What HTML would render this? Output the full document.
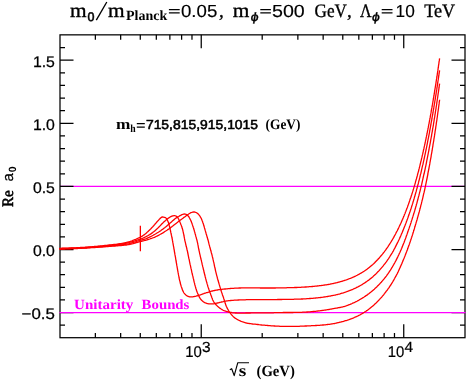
<!DOCTYPE html>
<html><head><meta charset="utf-8"><title>plot</title>
<style>html,body{margin:0;padding:0;background:#fff}svg{display:block;will-change:transform}text{text-rendering:geometricPrecision}</style>
</head><body>
<svg width="468" height="382" viewBox="0 0 468 382">
<rect x="0" y="0" width="468" height="382" fill="#fff"/>
<path d="M60.0,186.40H465.0" stroke="#f0f" stroke-width="1.2" fill="none"/>
<path d="M60.0,325.22h5M465.0,325.22h-5M60.0,312.60h13.5M465.0,312.60h-13.5M60.0,299.98h5M465.0,299.98h-5M60.0,287.36h5M465.0,287.36h-5M60.0,274.74h5M465.0,274.74h-5M60.0,262.12h5M465.0,262.12h-5M60.0,249.50h13.5M465.0,249.50h-13.5M60.0,236.88h5M465.0,236.88h-5M60.0,224.26h5M465.0,224.26h-5M60.0,211.64h5M465.0,211.64h-5M60.0,199.02h5M465.0,199.02h-5M60.0,186.40h13.5M465.0,186.40h-13.5M60.0,173.78h5M465.0,173.78h-5M60.0,161.16h5M465.0,161.16h-5M60.0,148.54h5M465.0,148.54h-5M60.0,135.92h5M465.0,135.92h-5M60.0,123.30h13.5M465.0,123.30h-13.5M60.0,110.68h5M465.0,110.68h-5M60.0,98.06h5M465.0,98.06h-5M60.0,85.44h5M465.0,85.44h-5M60.0,72.82h5M465.0,72.82h-5M60.0,60.20h13.5M465.0,60.20h-13.5M60.0,47.58h5M465.0,47.58h-5M95.36,337.7v-4.8M95.36,34.85v4.8M120.66,337.7v-4.8M120.66,34.85v4.8M140.28,337.7v-4.8M140.28,34.85v4.8M156.32,337.7v-4.8M156.32,34.85v4.8M169.87,337.7v-4.8M169.87,34.85v4.8M181.62,337.7v-4.8M181.62,34.85v4.8M191.98,337.7v-4.8M191.98,34.85v4.8M201.24,337.7v-13.4M201.24,34.85v13.4M262.20,337.7v-4.8M262.20,34.85v4.8M297.86,337.7v-4.8M297.86,34.85v4.8M323.16,337.7v-4.8M323.16,34.85v4.8M342.78,337.7v-4.8M342.78,34.85v4.8M358.82,337.7v-4.8M358.82,34.85v4.8M372.37,337.7v-4.8M372.37,34.85v4.8M384.12,337.7v-4.8M384.12,34.85v4.8M394.48,337.7v-4.8M394.48,34.85v4.8M403.74,337.7v-13.4M403.74,34.85v13.4" stroke="#000" stroke-width="1.25" fill="none"/>
<rect x="60.0" y="34.85" width="405.0" height="302.84999999999997" fill="none" stroke="#000" stroke-width="1.25"/>
<path d="M59.4,312.60H465.6" stroke="#f0f" stroke-width="1.2" fill="none"/>
<path d="M59.4,248.3 L60.2,248.3 L61.1,248.3 L61.9,248.2 L62.7,248.2 L63.5,248.2 L64.3,248.2 L65.1,248.2 L65.9,248.1 L66.7,248.1 L67.5,248.1 L68.2,248.1 L69.0,248.0 L69.7,248.0 L70.5,248.0 L71.2,248.0 L72.0,247.9 L72.7,247.9 L73.4,247.9 L74.1,247.8 L74.9,247.8 L75.6,247.8 L76.3,247.8 L77.0,247.7 L77.7,247.7 L78.4,247.6 L79.1,247.6 L79.8,247.6 L80.5,247.5 L81.2,247.5 L81.9,247.4 L82.6,247.4 L83.3,247.4 L83.9,247.3 L84.6,247.3 L85.3,247.2 L86.0,247.2 L86.7,247.1 L87.4,247.1 L88.1,247.0 L88.8,247.0 L89.5,246.9 L90.2,246.9 L90.9,246.8 L91.6,246.8 L92.3,246.7 L93.0,246.6 L93.7,246.6 L94.4,246.5 L95.1,246.5 L95.8,246.4 L96.5,246.3 L97.3,246.3 L98.0,246.2 L98.7,246.1 L99.5,246.1 L100.2,246.0 L101.0,245.9 L101.7,245.8 L102.5,245.8 L103.2,245.7 L104.0,245.6 L104.8,245.5 L105.5,245.4 L106.3,245.4 L107.1,245.3 L107.8,245.2 L108.6,245.1 L109.4,245.0 L110.1,245.0 L110.9,244.9 L111.6,244.8 L112.3,244.7 L113.1,244.6 L113.8,244.5 L114.5,244.4 L115.2,244.3 L115.9,244.3 L116.6,244.2 L117.2,244.1 L117.9,244.0 L118.5,243.9 L119.1,243.8 L119.7,243.7 L120.3,243.7 L120.9,243.6 L121.5,243.5 L122.0,243.4 L122.5,243.3 L123.0,243.2 L123.6,243.1 L124.1,243.0 L124.6,242.9 L125.0,242.8 L125.5,242.7 L126.0,242.6 L126.5,242.5 L127.0,242.4 L127.4,242.2 L127.9,242.1 L128.4,242.0 L128.9,241.8 L129.4,241.7 L129.9,241.5 L130.4,241.3 L130.9,241.2 L131.4,241.0 L132.0,240.8 L132.5,240.6 L133.0,240.4 L133.5,240.2 L134.1,240.0 L134.6,239.7 L135.1,239.5 L135.7,239.3 L136.2,239.1 L136.7,238.9 L137.2,238.6 L137.7,238.4 L138.2,238.2 L138.6,238.0 L139.1,237.7 L139.5,237.5 L140.0,237.3 L140.4,237.1 L140.8,236.9 L141.1,236.7 L141.5,236.5 L141.8,236.3 L142.2,236.1 L142.5,235.9 L142.8,235.7 L143.1,235.5 L143.4,235.3 L143.7,235.1 L144.0,234.9 L144.3,234.7 L144.6,234.4 L144.9,234.2 L145.2,234.0 L145.5,233.7 L145.8,233.5 L146.1,233.2 L146.4,233.0 L146.7,232.7 L147.0,232.4 L147.3,232.1 L147.7,231.8 L148.0,231.5 L148.3,231.2 L148.6,230.9 L149.0,230.6 L149.3,230.3 L149.6,230.0 L149.9,229.7 L150.2,229.4 L150.6,229.0 L150.9,228.7 L151.2,228.4 L151.5,228.0 L151.8,227.7 L152.1,227.4 L152.5,227.0 L152.8,226.7 L153.1,226.4 L153.4,226.0 L153.7,225.7 L154.0,225.3 L154.3,225.0 L154.6,224.7 L154.9,224.3 L155.2,224.0 L155.4,223.7 L155.7,223.3 L156.0,223.0 L156.3,222.7 L156.6,222.3 L156.9,222.0 L157.1,221.7 L157.4,221.4 L157.7,221.1 L158.0,220.8 L158.2,220.5 L158.5,220.2 L158.8,219.9 L159.0,219.6 L159.3,219.3 L159.5,219.1 L159.8,218.8 L160.0,218.6 L160.3,218.4 L160.5,218.1 L160.7,217.9 L161.0,217.7 L161.2,217.5 L161.4,217.4 L161.7,217.2 L161.9,217.1 L162.1,216.9 L162.3,216.8 L162.3,216.8 L165.5,217.6 L165.5,217.6 L165.8,217.9 L166.0,218.1 L166.3,218.4 L166.5,218.8 L166.8,219.1 L167.0,219.5 L167.2,219.9 L167.5,220.3 L167.7,220.8 L167.9,221.2 L168.1,221.7 L168.3,222.2 L168.5,222.7 L168.7,223.3 L168.8,223.9 L169.0,224.5 L169.2,225.1 L169.3,225.7 L169.5,226.3 L169.6,227.0 L169.8,227.6 L169.9,228.3 L170.1,229.0 L170.2,229.6 L170.4,230.3 L170.5,231.0 L170.7,231.7 L170.8,232.4 L171.0,233.1 L171.1,233.8 L171.3,234.5 L171.4,235.2 L171.6,235.9 L171.7,236.6 L171.9,237.3 L172.0,238.0 L172.2,238.7 L172.3,239.4 L172.4,240.2 L172.6,240.9 L172.7,241.7 L172.8,242.4 L173.0,243.2 L173.1,244.1 L173.3,244.9 L173.4,245.8 L173.6,246.7 L173.8,247.6 L173.9,248.6 L174.1,249.5 L174.3,250.5 L174.4,251.5 L174.6,252.5 L174.8,253.5 L174.9,254.4 L175.1,255.4 L175.3,256.4 L175.5,257.4 L175.6,258.3 L175.8,259.3 L175.9,260.2 L176.1,261.1 L176.2,262.0 L176.4,262.8 L176.5,263.7 L176.7,264.6 L176.8,265.4 L177.0,266.2 L177.1,267.1 L177.3,267.9 L177.4,268.7 L177.5,269.5 L177.7,270.3 L177.8,271.1 L178.0,271.9 L178.1,272.7 L178.3,273.6 L178.4,274.4 L178.6,275.1 L178.7,275.9 L178.9,276.7 L179.0,277.5 L179.2,278.3 L179.3,279.1 L179.5,279.8 L179.7,280.6 L179.9,281.3 L180.1,282.0 L180.2,282.8 L180.4,283.5 L180.6,284.2 L180.8,284.9 L181.0,285.6 L181.2,286.3 L181.4,286.9 L181.7,287.6 L181.9,288.2 L182.1,288.8 L182.3,289.5 L182.5,290.1 L182.8,290.6 L183.0,291.2 L183.3,291.7 L183.6,292.3 L183.9,292.8 L184.2,293.2 L184.6,293.7 L185.0,294.1 L185.4,294.5 L185.8,294.9 L186.2,295.2 L186.6,295.6 L187.1,295.8 L187.5,296.1 L188.0,296.3 L188.5,296.5 L189.0,296.6 L189.5,296.8 L190.0,296.8 L190.6,296.9 L191.1,296.9 L191.7,296.9 L192.3,296.8 L192.9,296.8 L193.5,296.7 L194.1,296.6 L194.7,296.4 L195.3,296.3 L196.0,296.1 L196.6,295.9 L197.2,295.8 L197.8,295.6 L198.5,295.4 L199.1,295.2 L199.7,295.0 L200.4,294.8 L201.0,294.6 L201.7,294.4 L202.3,294.1 L203.0,293.9 L203.7,293.7 L204.3,293.4 L205.0,293.2 L205.7,293.0 L206.5,292.7 L207.2,292.5 L207.9,292.3 L208.6,292.1 L209.3,291.8 L210.1,291.6 L210.8,291.4 L211.5,291.2 L212.3,291.0 L213.0,290.9 L213.7,290.7 L214.5,290.5 L215.2,290.4 L215.9,290.2 L216.6,290.1 L217.3,290.0 L218.0,289.9 L218.7,289.7 L219.4,289.6 L220.1,289.6 L220.8,289.5 L221.4,289.4 L222.1,289.3 L222.8,289.2 L223.4,289.2 L224.1,289.1 L224.7,289.0 L225.4,289.0 L226.0,288.9 L226.6,288.8 L227.3,288.8 L228.0,288.7 L228.7,288.6 L229.4,288.6 L230.2,288.5 L231.0,288.4 L231.8,288.4 L232.7,288.3 L233.7,288.3 L234.7,288.2 L235.8,288.2 L236.9,288.1 L238.0,288.1 L239.2,288.0 L240.3,288.0 L241.5,287.9 L242.7,287.9 L243.8,287.9 L244.9,287.8 L246.0,287.8 L247.0,287.8 L248.0,287.8 L248.9,287.8 L249.8,287.8 L250.6,287.8 L251.2,287.8 L251.9,287.8 L252.5,287.8 L253.0,287.8 L253.5,287.8 L254.0,287.8 L254.5,287.9 L255.1,287.9 L255.6,287.9 L256.2,287.9 L256.7,287.9 L257.3,287.9 L257.9,287.9 L258.5,287.9 L259.1,287.9 L259.7,287.9 L260.3,288.0 L260.9,288.0 L261.5,288.0 L262.1,288.0 L262.6,288.0 L263.2,288.0 L263.8,288.0 L264.4,288.0 L264.9,288.0 L265.5,288.0 L266.1,288.0 L266.7,288.0 L267.3,288.0 L267.8,288.0 L268.4,288.0 L269.0,288.0 L269.6,288.0 L270.2,288.0 L270.8,288.0 L271.3,288.0 L271.9,288.0 L272.5,288.0 L273.1,288.0 L273.7,288.0 L274.2,288.0 L274.8,288.0 L275.4,288.0 L276.0,287.9 L276.6,287.9 L277.1,287.9 L277.7,287.9 L278.3,287.9 L278.9,287.9 L279.5,287.9 L280.1,287.9 L280.6,287.9 L281.2,287.9 L281.8,287.9 L282.4,287.8 L283.0,287.8 L283.5,287.8 L284.1,287.8 L284.7,287.8 L285.3,287.8 L285.9,287.8 L286.4,287.8 L287.0,287.7 L287.6,287.7 L288.2,287.7 L288.8,287.7 L289.3,287.7 L289.9,287.7 L290.5,287.7 L291.1,287.6 L291.7,287.6 L292.3,287.6 L292.8,287.6 L293.4,287.6 L294.0,287.6 L294.6,287.5 L295.2,287.5 L295.7,287.5 L296.3,287.5 L296.9,287.5 L297.5,287.4 L298.1,287.4 L298.6,287.4 L299.2,287.4 L299.8,287.3 L300.4,287.3 L301.0,287.3 L301.5,287.2 L302.1,287.2 L302.7,287.2 L303.3,287.1 L303.9,287.1 L304.4,287.1 L305.0,287.0 L305.6,287.0 L306.2,287.0 L306.8,286.9 L307.3,286.9 L307.9,286.8 L308.5,286.8 L309.1,286.7 L309.7,286.7 L310.3,286.7 L310.8,286.6 L311.4,286.6 L312.0,286.5 L312.6,286.5 L313.2,286.4 L313.7,286.4 L314.3,286.3 L314.9,286.2 L315.5,286.2 L316.0,286.1 L316.6,286.1 L317.2,286.0 L317.8,285.9 L318.4,285.9 L318.9,285.8 L319.5,285.7 L320.1,285.7 L320.7,285.6 L321.3,285.5 L321.8,285.4 L322.4,285.4 L323.0,285.3 L323.6,285.2 L324.2,285.1 L324.7,285.0 L325.3,284.9 L325.9,284.9 L326.5,284.8 L327.0,284.7 L327.6,284.6 L328.2,284.5 L328.8,284.4 L329.3,284.3 L329.9,284.2 L330.5,284.0 L331.1,283.9 L331.6,283.8 L332.2,283.7 L332.8,283.6 L333.4,283.5 L333.9,283.3 L334.5,283.2 L335.1,283.1 L335.7,282.9 L336.2,282.8 L336.8,282.7 L337.4,282.5 L338.0,282.4 L338.5,282.2 L339.1,282.1 L339.7,281.9 L340.2,281.7 L340.8,281.6 L341.4,281.4 L341.9,281.3 L342.5,281.1 L343.1,280.9 L343.7,280.7 L344.2,280.5 L344.8,280.4 L345.4,280.2 L345.9,280.0 L346.5,279.8 L347.0,279.6 L347.6,279.4 L348.2,279.2 L348.7,279.0 L349.3,278.7 L349.9,278.5 L350.4,278.3 L351.0,278.1 L351.5,277.8 L352.1,277.6 L352.6,277.4 L353.2,277.1 L353.8,276.9 L354.3,276.6 L354.9,276.3 L355.4,276.1 L356.0,275.8 L356.5,275.5 L357.1,275.3 L357.6,275.0 L358.2,274.7 L358.7,274.4 L359.3,274.1 L359.8,273.8 L360.3,273.5 L360.9,273.2 L361.4,272.9 L362.0,272.5 L362.5,272.2 L363.0,271.9 L363.6,271.5 L364.1,271.2 L364.6,270.8 L365.2,270.5 L365.7,270.1 L366.2,269.8 L366.7,269.4 L367.3,269.0 L367.8,268.6 L368.3,268.2 L368.8,267.8 L369.3,267.4 L369.8,267.0 L370.3,266.6 L370.9,266.1 L371.4,265.7 L371.9,265.3 L372.4,264.8 L372.9,264.4 L373.4,263.9 L373.9,263.5 L374.4,263.0 L374.9,262.5 L375.3,262.0 L375.8,261.5 L376.3,261.0 L376.8,260.5 L377.3,260.0 L377.8,259.5 L378.2,259.0 L378.7,258.5 L379.2,258.0 L379.7,257.4 L380.1,256.9 L380.6,256.3 L381.1,255.8 L381.5,255.2 L382.0,254.7 L382.5,254.1 L382.9,253.5 L383.4,253.0 L383.8,252.4 L384.3,251.8 L384.7,251.2 L385.2,250.6 L385.6,250.0 L386.1,249.3 L386.5,248.7 L387.0,248.1 L387.4,247.4 L387.9,246.8 L388.3,246.2 L388.7,245.5 L389.1,244.9 L389.6,244.2 L390.0,243.5 L390.4,242.9 L390.8,242.2 L391.2,241.6 L391.6,240.9 L392.1,240.2 L392.5,239.5 L392.9,238.8 L393.3,238.1 L393.7,237.4 L394.1,236.6 L394.5,235.8 L394.9,235.1 L395.4,234.3 L395.8,233.5 L396.2,232.6 L396.6,231.8 L397.1,231.0 L397.5,230.2 L397.9,229.4 L398.3,228.6 L398.7,227.8 L399.0,227.0 L399.4,226.3 L399.7,225.6 L400.0,225.0 L400.3,224.4 L400.6,223.8 L400.8,223.3 L401.0,222.8 L401.3,222.3 L401.5,221.8 L401.7,221.3 L401.9,220.8 L402.1,220.3 L402.3,219.8 L402.6,219.3 L402.8,218.7 L403.0,218.2 L403.3,217.6 L403.5,217.1 L403.7,216.5 L404.0,216.0 L404.2,215.4 L404.4,214.8 L404.6,214.3 L404.9,213.7 L405.1,213.2 L405.3,212.6 L405.5,212.0 L405.8,211.5 L406.0,210.9 L406.2,210.3 L406.4,209.8 L406.6,209.2 L406.8,208.6 L407.1,208.0 L407.3,207.4 L407.5,206.9 L407.7,206.3 L407.9,205.7 L408.1,205.1 L408.4,204.5 L408.6,203.9 L408.8,203.3 L409.0,202.7 L409.2,202.1 L409.4,201.5 L409.6,200.9 L409.8,200.3 L410.0,199.6 L410.2,199.0 L410.5,198.4 L410.7,197.8 L410.9,197.2 L411.1,196.5 L411.3,195.9 L411.5,195.3 L411.7,194.7 L411.9,194.0 L412.1,193.4 L412.3,192.8 L412.5,192.1 L412.7,191.5 L412.9,190.8 L413.1,190.2 L413.3,189.5 L413.5,188.9 L413.7,188.2 L413.9,187.6 L414.1,186.9 L414.3,186.3 L414.5,185.6 L414.7,184.9 L414.9,184.3 L415.1,183.6 L415.3,182.9 L415.4,182.3 L415.6,181.6 L415.8,180.9 L416.0,180.2 L416.2,179.5 L416.4,178.9 L416.6,178.2 L416.8,177.5 L417.0,176.8 L417.2,176.1 L417.4,175.4 L417.5,174.7 L417.7,174.0 L417.9,173.3 L418.1,172.6 L418.3,171.9 L418.5,171.2 L418.7,170.5 L418.8,169.8 L419.0,169.1 L419.2,168.4 L419.4,167.6 L419.6,166.9 L419.7,166.2 L419.9,165.5 L420.1,164.7 L420.3,164.0 L420.5,163.3 L420.6,162.5 L420.8,161.8 L421.0,161.1 L421.2,160.3 L421.4,159.6 L421.5,158.9 L421.7,158.1 L421.9,157.4 L422.1,156.6 L422.2,155.9 L422.4,155.1 L422.6,154.4 L422.8,153.6 L422.9,152.8 L423.1,152.1 L423.3,151.3 L423.4,150.5 L423.6,149.8 L423.8,149.0 L424.0,148.2 L424.1,147.5 L424.3,146.7 L424.5,145.9 L424.6,145.1 L424.8,144.3 L425.0,143.6 L425.1,142.8 L425.3,142.0 L425.5,141.2 L425.6,140.4 L425.8,139.6 L426.0,138.8 L426.1,138.0 L426.3,137.2 L426.5,136.4 L426.6,135.6 L426.8,134.8 L427.0,134.0 L427.1,133.2 L427.3,132.3 L427.5,131.5 L427.6,130.7 L427.8,129.9 L427.9,129.1 L428.1,128.2 L428.3,127.4 L428.4,126.6 L428.6,125.8 L428.7,124.9 L428.9,124.1 L429.1,123.3 L429.2,122.4 L429.4,121.6 L429.5,120.7 L429.7,119.9 L429.8,119.1 L430.0,118.2 L430.2,117.4 L430.3,116.5 L430.5,115.7 L430.6,114.8 L430.8,113.9 L430.9,113.1 L431.1,112.2 L431.2,111.4 L431.4,110.5 L431.5,109.6 L431.7,108.7 L431.9,107.9 L432.0,107.0 L432.2,106.1 L432.3,105.2 L432.5,104.4 L432.6,103.5 L432.8,102.6 L432.9,101.7 L433.1,100.8 L433.2,99.9 L433.4,99.0 L433.5,98.2 L433.7,97.3 L433.8,96.4 L434.0,95.5 L434.1,94.6 L434.3,93.7 L434.4,92.8 L434.5,91.9 L434.7,91.0 L434.8,90.0 L435.0,89.1 L435.1,88.2 L435.3,87.3 L435.4,86.4 L435.6,85.5 L435.7,84.5 L435.9,83.6 L436.0,82.7 L436.1,81.7 L436.3,80.8 L436.4,79.8 L436.6,78.9 L436.7,78.0 L436.9,77.0 L437.0,76.1 L437.2,75.1 L437.3,74.2 L437.4,73.2 L437.6,72.3 L437.7,71.4 L437.9,70.4 L438.0,69.5 L438.1,68.6 L438.3,67.7 L438.4,66.8 L438.5,65.9 L438.6,65.0 L438.8,64.1 L438.9,63.2 L439.0,62.4 L439.1,61.5 L439.3,60.7 L439.4,59.9 L439.5,59.1 L439.6,58.3" stroke="#f00" stroke-width="1.3" fill="none" stroke-linejoin="round"/>
<path d="M59.4,248.6 L61.0,248.6 L62.6,248.5 L64.1,248.5 L65.7,248.4 L67.2,248.4 L68.6,248.3 L70.1,248.3 L71.5,248.2 L72.9,248.2 L74.3,248.1 L75.7,248.1 L77.0,248.0 L78.4,247.9 L79.7,247.9 L81.1,247.8 L82.4,247.7 L83.7,247.6 L85.0,247.6 L86.4,247.5 L87.7,247.4 L89.0,247.3 L90.3,247.2 L91.7,247.1 L93.0,247.0 L94.4,246.9 L95.8,246.8 L97.2,246.7 L98.6,246.5 L100.0,246.4 L101.4,246.3 L102.9,246.1 L104.4,246.0 L105.9,245.8 L107.3,245.7 L108.8,245.5 L110.2,245.4 L111.7,245.2 L113.1,245.1 L114.4,244.9 L115.8,244.7 L117.1,244.6 L118.3,244.4 L119.5,244.3 L120.6,244.1 L121.7,244.0 L122.7,243.8 L123.7,243.6 L124.7,243.5 L125.6,243.3 L126.5,243.1 L127.4,242.9 L128.4,242.7 L129.3,242.4 L130.3,242.2 L131.3,241.9 L132.3,241.6 L133.4,241.3 L134.4,241.0 L135.4,240.6 L136.5,240.3 L137.4,240.0 L138.4,239.7 L139.3,239.4 L140.1,239.1 L140.9,238.8 L141.6,238.6 L142.2,238.3 L142.9,238.1 L143.5,237.9 L144.1,237.6 L144.7,237.3 L145.3,237.0 L146.0,236.7 L146.7,236.3 L147.4,235.9 L148.2,235.5 L148.9,235.0 L149.7,234.6 L150.4,234.1 L151.2,233.6 L151.9,233.1 L152.6,232.6 L153.3,232.0 L154.0,231.5 L154.7,230.9 L155.3,230.4 L156.0,229.8 L156.7,229.2 L157.3,228.5 L158.0,227.9 L158.7,227.2 L159.4,226.6 L160.0,225.9 L160.7,225.2 L161.3,224.5 L162.0,223.8 L162.6,223.2 L163.2,222.6 L163.8,222.0 L164.4,221.4 L165.0,220.9 L165.6,220.4 L166.1,219.9 L166.7,219.4 L167.2,219.0 L167.7,218.6 L168.3,218.2 L168.8,217.9 L169.3,217.5 L169.8,217.2 L170.3,216.9 L170.8,216.7 L171.3,216.4 L171.8,216.2 L172.3,216.0 L172.8,215.9 L173.3,215.8 L173.8,215.7 L174.3,215.7 L174.8,215.7 L175.3,215.8 L175.8,216.0 L176.3,216.2 L176.7,216.5 L177.1,216.9 L177.5,217.3 L177.8,217.8 L178.2,218.2 L178.5,218.8 L178.8,219.3 L179.0,219.8 L179.3,220.4 L179.5,220.9 L179.7,221.5 L180.0,222.1 L180.2,222.7 L180.5,223.3 L180.7,224.0 L181.0,224.7 L181.3,225.3 L181.5,226.0 L181.8,226.8 L182.0,227.5 L182.2,228.3 L182.5,229.1 L182.7,229.8 L182.9,230.6 L183.1,231.5 L183.3,232.3 L183.4,233.1 L183.6,233.9 L183.8,234.7 L183.9,235.5 L184.1,236.3 L184.2,237.1 L184.4,237.9 L184.5,238.7 L184.7,239.5 L184.8,240.3 L185.0,241.1 L185.2,241.9 L185.4,242.7 L185.6,243.6 L185.8,244.5 L186.0,245.4 L186.2,246.3 L186.5,247.2 L186.7,248.1 L186.9,249.0 L187.1,250.0 L187.4,251.0 L187.6,252.0 L187.8,253.0 L188.0,254.0 L188.2,255.1 L188.4,256.1 L188.6,257.1 L188.8,258.2 L189.1,259.2 L189.3,260.2 L189.5,261.3 L189.7,262.3 L189.9,263.3 L190.1,264.4 L190.4,265.4 L190.6,266.4 L190.8,267.4 L191.0,268.4 L191.3,269.4 L191.5,270.4 L191.7,271.5 L191.9,272.5 L192.2,273.5 L192.4,274.5 L192.6,275.4 L192.9,276.4 L193.1,277.4 L193.3,278.4 L193.6,279.3 L193.8,280.3 L194.0,281.3 L194.2,282.2 L194.5,283.1 L194.7,284.1 L194.9,285.0 L195.2,285.9 L195.4,286.7 L195.7,287.6 L195.9,288.5 L196.2,289.3 L196.4,290.1 L196.7,290.9 L197.0,291.7 L197.3,292.5 L197.6,293.2 L197.9,293.9 L198.2,294.6 L198.5,295.3 L198.8,296.0 L199.1,296.6 L199.4,297.2 L199.8,297.8 L200.1,298.4 L200.5,299.0 L201.0,299.5 L201.4,300.0 L201.9,300.5 L202.5,301.0 L203.0,301.5 L203.6,301.9 L204.2,302.3 L204.8,302.6 L205.5,303.0 L206.1,303.2 L206.7,303.4 L207.3,303.6 L208.0,303.7 L208.6,303.8 L209.3,303.9 L209.9,303.9 L210.6,303.9 L211.3,303.9 L212.0,303.9 L212.8,303.8 L213.5,303.8 L214.3,303.7 L215.1,303.5 L215.9,303.4 L216.7,303.2 L217.5,303.0 L218.3,302.8 L219.1,302.6 L219.9,302.4 L220.8,302.2 L221.6,302.0 L222.4,301.8 L223.3,301.6 L224.1,301.4 L225.0,301.2 L225.9,301.1 L226.8,300.9 L227.7,300.8 L228.7,300.7 L229.7,300.6 L230.8,300.5 L231.9,300.4 L233.1,300.3 L234.4,300.2 L235.7,300.1 L237.0,300.1 L238.4,300.0 L239.8,299.9 L241.2,299.9 L242.6,299.8 L243.9,299.8 L245.2,299.8 L246.5,299.7 L247.7,299.7 L248.8,299.7 L249.8,299.7 L250.7,299.7 L251.5,299.7 L252.2,299.7 L252.9,299.7 L253.5,299.7 L254.1,299.7 L254.7,299.7 L255.4,299.7 L256.0,299.7 L256.7,299.7 L257.4,299.7 L258.1,299.7 L258.8,299.7 L259.5,299.7 L260.3,299.7 L261.0,299.7 L261.7,299.7 L262.4,299.7 L263.0,299.7 L263.7,299.7 L264.4,299.7 L265.1,299.7 L265.8,299.7 L266.5,299.7 L267.2,299.7 L267.9,299.7 L268.6,299.7 L269.3,299.7 L270.0,299.7 L270.7,299.7 L271.4,299.6 L272.1,299.6 L272.8,299.6 L273.5,299.6 L274.2,299.6 L274.8,299.6 L275.5,299.6 L276.2,299.6 L276.9,299.6 L277.6,299.5 L278.3,299.5 L279.0,299.5 L279.7,299.5 L280.4,299.5 L281.1,299.5 L281.8,299.5 L282.5,299.4 L283.2,299.4 L283.9,299.4 L284.6,299.4 L285.3,299.4 L286.0,299.4 L286.7,299.4 L287.4,299.4 L288.0,299.3 L288.7,299.3 L289.4,299.3 L290.1,299.3 L290.8,299.3 L291.5,299.3 L292.2,299.3 L292.9,299.3 L293.6,299.3 L294.3,299.2 L295.0,299.2 L295.7,299.2 L296.4,299.2 L297.1,299.2 L297.8,299.2 L298.5,299.1 L299.2,299.1 L299.9,299.1 L300.6,299.1 L301.3,299.0 L301.9,299.0 L302.6,299.0 L303.3,298.9 L304.0,298.9 L304.7,298.9 L305.4,298.8 L306.1,298.8 L306.8,298.7 L307.5,298.7 L308.2,298.6 L308.9,298.6 L309.6,298.5 L310.3,298.5 L311.0,298.4 L311.7,298.4 L312.4,298.3 L313.1,298.3 L313.7,298.2 L314.4,298.1 L315.1,298.1 L315.8,298.0 L316.5,297.9 L317.2,297.9 L317.9,297.8 L318.6,297.7 L319.3,297.6 L320.0,297.6 L320.7,297.5 L321.4,297.4 L322.1,297.3 L322.8,297.2 L323.4,297.1 L324.1,297.0 L324.8,296.9 L325.5,296.8 L326.2,296.7 L326.9,296.6 L327.6,296.5 L328.3,296.4 L329.0,296.2 L329.7,296.1 L330.4,296.0 L331.0,295.9 L331.7,295.7 L332.4,295.6 L333.1,295.4 L333.8,295.3 L334.5,295.2 L335.2,295.0 L335.9,294.8 L336.5,294.7 L337.2,294.5 L337.9,294.3 L338.6,294.2 L339.3,294.0 L340.0,293.8 L340.6,293.6 L341.3,293.4 L342.0,293.2 L342.7,293.0 L343.4,292.8 L344.0,292.6 L344.7,292.4 L345.4,292.1 L346.1,291.9 L346.7,291.7 L347.4,291.4 L348.1,291.2 L348.8,290.9 L349.4,290.7 L350.1,290.4 L350.8,290.1 L351.4,289.9 L352.1,289.6 L352.8,289.3 L353.4,289.0 L354.1,288.7 L354.8,288.4 L355.4,288.1 L356.1,287.8 L356.7,287.4 L357.4,287.1 L358.1,286.8 L358.7,286.4 L359.4,286.1 L360.0,285.7 L360.7,285.3 L361.3,285.0 L362.0,284.6 L362.6,284.2 L363.2,283.8 L363.9,283.4 L364.5,283.0 L365.1,282.6 L365.8,282.1 L366.4,281.7 L367.0,281.3 L367.7,280.8 L368.3,280.4 L368.9,279.9 L369.5,279.4 L370.1,278.9 L370.8,278.4 L371.4,277.9 L372.0,277.4 L372.6,276.9 L373.2,276.4 L373.8,275.8 L374.4,275.3 L375.0,274.7 L375.6,274.2 L376.2,273.6 L376.8,273.0 L377.3,272.4 L377.9,271.8 L378.5,271.2 L379.1,270.6 L379.6,270.0 L380.2,269.4 L380.8,268.7 L381.3,268.1 L381.9,267.4 L382.4,266.8 L383.0,266.1 L383.5,265.4 L384.1,264.7 L384.6,264.0 L385.2,263.3 L385.7,262.6 L386.3,261.8 L386.8,261.1 L387.3,260.3 L387.8,259.6 L388.4,258.8 L388.9,258.0 L389.4,257.3 L389.9,256.5 L390.4,255.7 L390.9,254.9 L391.4,254.1 L391.9,253.3 L392.4,252.5 L392.9,251.6 L393.4,250.8 L393.8,249.9 L394.3,249.0 L394.8,248.1 L395.3,247.1 L395.8,246.1 L396.3,245.1 L396.8,244.1 L397.3,243.1 L397.8,242.1 L398.3,241.2 L398.7,240.2 L399.2,239.3 L399.6,238.4 L399.9,237.6 L400.3,236.9 L400.6,236.2 L400.9,235.5 L401.1,234.9 L401.4,234.3 L401.6,233.7 L401.9,233.1 L402.2,232.5 L402.4,231.9 L402.7,231.2 L403.0,230.6 L403.2,229.9 L403.5,229.2 L403.8,228.5 L404.1,227.9 L404.3,227.2 L404.6,226.5 L404.9,225.8 L405.1,225.2 L405.4,224.5 L405.7,223.8 L405.9,223.1 L406.2,222.4 L406.4,221.7 L406.7,221.0 L407.0,220.3 L407.2,219.6 L407.5,218.9 L407.7,218.2 L408.0,217.5 L408.2,216.8 L408.5,216.1 L408.7,215.4 L409.0,214.6 L409.2,213.9 L409.5,213.2 L409.7,212.4 L410.0,211.7 L410.2,211.0 L410.5,210.2 L410.7,209.5 L411.0,208.7 L411.2,208.0 L411.5,207.2 L411.7,206.4 L411.9,205.7 L412.2,204.9 L412.4,204.1 L412.7,203.4 L412.9,202.6 L413.1,201.8 L413.4,201.0 L413.6,200.2 L413.8,199.5 L414.1,198.7 L414.3,197.9 L414.5,197.1 L414.8,196.3 L415.0,195.5 L415.2,194.7 L415.5,193.8 L415.7,193.0 L415.9,192.2 L416.2,191.4 L416.4,190.6 L416.6,189.7 L416.8,188.9 L417.1,188.1 L417.3,187.3 L417.5,186.4 L417.7,185.6 L417.9,184.7 L418.2,183.9 L418.4,183.0 L418.6,182.2 L418.8,181.3 L419.0,180.5 L419.3,179.6 L419.5,178.7 L419.7,177.9 L419.9,177.0 L420.1,176.1 L420.3,175.2 L420.5,174.4 L420.8,173.5 L421.0,172.6 L421.2,171.7 L421.4,170.8 L421.6,169.9 L421.8,169.0 L422.0,168.1 L422.2,167.2 L422.4,166.3 L422.6,165.4 L422.9,164.5 L423.1,163.6 L423.3,162.7 L423.5,161.7 L423.7,160.8 L423.9,159.9 L424.1,159.0 L424.3,158.0 L424.5,157.1 L424.7,156.2 L424.9,155.2 L425.1,154.3 L425.3,153.3 L425.5,152.4 L425.7,151.4 L425.9,150.5 L426.1,149.5 L426.3,148.6 L426.5,147.6 L426.7,146.6 L426.9,145.7 L427.1,144.7 L427.3,143.7 L427.5,142.7 L427.6,141.8 L427.8,140.8 L428.0,139.8 L428.2,138.8 L428.4,137.8 L428.6,136.8 L428.8,135.8 L429.0,134.8 L429.2,133.8 L429.4,132.8 L429.6,131.8 L429.7,130.8 L429.9,129.8 L430.1,128.8 L430.3,127.8 L430.5,126.7 L430.7,125.7 L430.9,124.7 L431.0,123.7 L431.2,122.6 L431.4,121.6 L431.6,120.6 L431.8,119.5 L432.0,118.5 L432.1,117.4 L432.3,116.4 L432.5,115.3 L432.7,114.3 L432.9,113.2 L433.1,112.2 L433.2,111.1 L433.4,110.1 L433.6,109.0 L433.8,107.9 L433.9,106.9 L434.1,105.8 L434.3,104.7 L434.5,103.6 L434.7,102.6 L434.8,101.5 L435.0,100.4 L435.2,99.3 L435.4,98.2 L435.5,97.1 L435.7,96.0 L435.9,94.9 L436.1,93.8 L436.2,92.7 L436.4,91.6 L436.6,90.5 L436.8,89.4 L436.9,88.2 L437.1,87.1 L437.3,86.0 L437.4,84.9 L437.6,83.8 L437.8,82.7 L437.9,81.6 L438.1,80.5 L438.3,79.4 L438.4,78.3 L438.6,77.3 L438.7,76.3 L438.9,75.2 L439.0,74.2 L439.2,73.2 L439.3,72.2 L439.5,71.3 L439.6,70.4" stroke="#f00" stroke-width="1.3" fill="none" stroke-linejoin="round"/>
<path d="M59.4,248.9 L61.0,248.9 L62.6,248.8 L64.1,248.8 L65.6,248.7 L67.1,248.7 L68.6,248.6 L70.1,248.6 L71.5,248.5 L72.9,248.5 L74.3,248.4 L75.6,248.4 L77.0,248.3 L78.3,248.2 L79.7,248.2 L81.0,248.1 L82.3,248.0 L83.7,248.0 L85.0,247.9 L86.3,247.8 L87.6,247.7 L88.9,247.6 L90.3,247.5 L91.6,247.4 L93.0,247.3 L94.3,247.2 L95.7,247.1 L97.1,247.0 L98.5,246.9 L99.9,246.8 L101.4,246.7 L102.8,246.6 L104.3,246.4 L105.8,246.3 L107.2,246.2 L108.7,246.1 L110.1,245.9 L111.6,245.8 L113.0,245.7 L114.4,245.6 L115.7,245.4 L117.0,245.3 L118.2,245.2 L119.4,245.1 L120.5,244.9 L121.6,244.8 L122.6,244.7 L123.6,244.6 L124.6,244.4 L125.5,244.3 L126.4,244.1 L127.4,244.0 L128.3,243.8 L129.2,243.6 L130.2,243.3 L131.2,243.0 L132.3,242.7 L133.3,242.4 L134.4,242.1 L135.4,241.8 L136.4,241.5 L137.4,241.2 L138.3,240.9 L139.2,240.6 L140.1,240.4 L140.8,240.2 L141.5,240.0 L142.2,239.9 L142.8,239.7 L143.4,239.6 L144.0,239.4 L144.7,239.2 L145.4,239.0 L146.2,238.7 L147.0,238.3 L147.8,237.9 L148.7,237.5 L149.6,237.1 L150.5,236.7 L151.4,236.2 L152.3,235.7 L153.2,235.2 L154.0,234.7 L154.9,234.3 L155.8,233.8 L156.6,233.3 L157.4,232.8 L158.3,232.3 L159.1,231.8 L159.9,231.2 L160.7,230.7 L161.5,230.1 L162.3,229.5 L163.1,228.9 L163.9,228.3 L164.7,227.7 L165.5,227.0 L166.3,226.4 L167.1,225.7 L167.8,225.1 L168.6,224.4 L169.4,223.7 L170.1,223.1 L170.9,222.4 L171.6,221.8 L172.3,221.1 L173.0,220.5 L173.7,219.9 L174.4,219.4 L175.0,218.8 L175.7,218.3 L176.3,217.9 L176.9,217.5 L177.5,217.1 L178.0,216.8 L178.6,216.5 L179.1,216.2 L179.6,215.9 L180.1,215.6 L180.6,215.4 L181.1,215.1 L181.5,214.9 L182.0,214.7 L182.5,214.5 L182.9,214.3 L183.4,214.1 L183.9,214.1 L184.4,214.0 L184.9,214.1 L185.5,214.2 L186.0,214.3 L186.5,214.6 L186.9,214.9 L187.4,215.2 L187.8,215.6 L188.2,216.0 L188.6,216.5 L188.9,216.9 L189.2,217.4 L189.5,218.0 L189.8,218.5 L190.1,219.1 L190.4,219.7 L190.7,220.3 L191.0,220.9 L191.2,221.6 L191.5,222.3 L191.8,223.0 L192.1,223.7 L192.3,224.4 L192.6,225.2 L192.8,226.0 L193.1,226.7 L193.3,227.5 L193.6,228.3 L193.8,229.1 L194.1,229.9 L194.3,230.7 L194.5,231.5 L194.8,232.4 L195.0,233.2 L195.2,234.0 L195.5,234.8 L195.7,235.7 L195.9,236.5 L196.2,237.4 L196.4,238.3 L196.6,239.1 L196.9,240.0 L197.1,240.9 L197.3,241.8 L197.5,242.6 L197.7,243.4 L197.8,244.2 L198.0,244.9 L198.1,245.6 L198.2,246.2 L198.3,246.8 L198.4,247.4 L198.5,248.1 L198.7,248.7 L198.8,249.5 L199.0,250.3 L199.2,251.1 L199.4,252.1 L199.6,253.1 L199.8,254.1 L200.1,255.2 L200.3,256.3 L200.6,257.4 L200.8,258.5 L201.1,259.6 L201.4,260.7 L201.6,261.7 L201.9,262.8 L202.1,263.8 L202.3,264.9 L202.6,265.9 L202.8,266.9 L203.1,267.9 L203.3,268.9 L203.5,269.8 L203.8,270.8 L204.0,271.8 L204.2,272.8 L204.5,273.8 L204.7,274.8 L205.0,275.7 L205.2,276.7 L205.5,277.7 L205.7,278.7 L206.0,279.6 L206.2,280.6 L206.5,281.6 L206.8,282.5 L207.0,283.4 L207.3,284.4 L207.6,285.3 L207.8,286.2 L208.1,287.1 L208.4,288.0 L208.7,288.8 L209.0,289.7 L209.3,290.5 L209.5,291.3 L209.8,292.0 L210.1,292.8 L210.4,293.5 L210.7,294.3 L210.9,295.0 L211.2,295.7 L211.5,296.4 L211.7,297.2 L212.0,297.9 L212.3,298.6 L212.5,299.4 L212.8,300.1 L213.2,300.8 L213.5,301.5 L213.9,302.2 L214.4,302.8 L214.9,303.5 L215.4,304.1 L216.0,304.7 L216.6,305.3 L217.2,305.9 L217.8,306.4 L218.4,307.0 L219.0,307.5 L219.6,307.9 L220.2,308.4 L220.8,308.8 L221.5,309.2 L222.1,309.6 L222.8,310.0 L223.4,310.3 L224.1,310.6 L224.9,310.9 L225.6,311.2 L226.4,311.5 L227.2,311.7 L228.0,311.9 L228.8,312.1 L229.6,312.3 L230.4,312.4 L231.2,312.5 L232.0,312.7 L232.8,312.8 L233.6,312.9 L234.5,312.9 L235.4,313.0 L236.4,313.0 L237.4,313.1 L238.5,313.1 L239.6,313.1 L240.9,313.1 L242.1,313.1 L243.5,313.1 L244.8,313.1 L246.2,313.0 L247.5,313.0 L248.8,313.0 L250.1,313.0 L251.4,312.9 L252.6,312.9 L253.7,312.9 L254.7,312.9 L255.6,312.8 L256.4,312.8 L257.1,312.8 L257.8,312.8 L258.5,312.9 L259.1,312.9 L259.7,312.9 L260.3,312.9 L261.0,312.9 L261.6,312.9 L262.3,312.9 L263.0,312.9 L263.8,312.9 L264.5,312.9 L265.2,312.8 L265.9,312.8 L266.6,312.8 L267.3,312.8 L268.0,312.8 L268.7,312.8 L269.4,312.8 L270.0,312.8 L270.7,312.8 L271.4,312.8 L272.1,312.8 L272.8,312.8 L273.5,312.8 L274.2,312.7 L274.9,312.7 L275.6,312.7 L276.3,312.7 L277.0,312.7 L277.7,312.7 L278.4,312.7 L279.1,312.6 L279.7,312.6 L280.4,312.6 L281.1,312.6 L281.8,312.6 L282.5,312.6 L283.2,312.5 L283.9,312.5 L284.6,312.5 L285.3,312.5 L286.0,312.5 L286.7,312.5 L287.4,312.5 L288.1,312.5 L288.8,312.5 L289.5,312.5 L290.1,312.5 L290.8,312.5 L291.5,312.5 L292.2,312.5 L292.9,312.5 L293.6,312.4 L294.3,312.4 L295.0,312.4 L295.7,312.4 L296.4,312.4 L297.1,312.4 L297.8,312.4 L298.5,312.4 L299.2,312.4 L299.9,312.3 L300.6,312.3 L301.2,312.3 L301.9,312.3 L302.6,312.2 L303.3,312.2 L304.0,312.2 L304.7,312.1 L305.4,312.1 L306.1,312.1 L306.8,312.0 L307.5,312.0 L308.2,311.9 L308.9,311.9 L309.6,311.8 L310.3,311.8 L310.9,311.7 L311.6,311.7 L312.3,311.6 L313.0,311.5 L313.7,311.5 L314.4,311.4 L315.1,311.3 L315.8,311.3 L316.5,311.2 L317.2,311.1 L317.9,311.0 L318.6,310.9 L319.2,310.9 L319.9,310.8 L320.6,310.7 L321.3,310.6 L322.0,310.5 L322.7,310.4 L323.4,310.3 L324.1,310.2 L324.8,310.1 L325.5,310.0 L326.1,309.9 L326.8,309.8 L327.5,309.7 L328.2,309.6 L328.9,309.5 L329.6,309.4 L330.3,309.2 L331.0,309.1 L331.7,309.0 L332.3,308.8 L333.0,308.7 L333.7,308.6 L334.4,308.4 L335.1,308.3 L335.8,308.2 L336.5,308.1 L337.2,308.0 L337.8,307.9 L338.5,307.7 L339.2,307.6 L339.9,307.5 L340.6,307.4 L341.3,307.2 L342.0,307.1 L342.7,306.9 L343.3,306.7 L344.0,306.6 L344.7,306.4 L345.4,306.1 L346.1,305.9 L346.7,305.7 L347.4,305.4 L348.1,305.2 L348.7,304.9 L349.4,304.6 L350.1,304.4 L350.7,304.1 L351.4,303.8 L352.1,303.5 L352.7,303.2 L353.4,302.9 L354.1,302.6 L354.7,302.3 L355.4,302.0 L356.0,301.6 L356.7,301.3 L357.3,301.0 L358.0,300.6 L358.6,300.3 L359.3,299.9 L359.9,299.5 L360.6,299.2 L361.2,298.8 L361.9,298.4 L362.5,298.0 L363.1,297.6 L363.8,297.2 L364.4,296.8 L365.0,296.4 L365.7,295.9 L366.3,295.5 L366.9,295.1 L367.6,294.6 L368.2,294.1 L368.8,293.7 L369.4,293.2 L370.0,292.7 L370.6,292.2 L371.3,291.7 L371.9,291.2 L372.5,290.7 L373.1,290.2 L373.7,289.7 L374.3,289.2 L374.9,288.6 L375.5,288.1 L376.1,287.5 L376.7,287.0 L377.2,286.4 L377.8,285.8 L378.4,285.2 L379.0,284.6 L379.6,284.0 L380.1,283.4 L380.7,282.8 L381.3,282.2 L381.8,281.5 L382.4,280.9 L383.0,280.2 L383.5,279.6 L384.1,278.9 L384.6,278.2 L385.2,277.5 L385.7,276.8 L386.3,276.1 L386.8,275.4 L387.3,274.6 L387.9,273.9 L388.4,273.1 L388.9,272.4 L389.4,271.6 L389.9,270.8 L390.4,270.1 L390.9,269.3 L391.4,268.5 L391.9,267.7 L392.4,266.9 L392.9,266.0 L393.4,265.2 L393.9,264.3 L394.4,263.4 L394.9,262.5 L395.4,261.5 L395.9,260.6 L396.4,259.6 L396.9,258.6 L397.4,257.6 L397.9,256.6 L398.3,255.7 L398.8,254.7 L399.2,253.8 L399.6,253.0 L400.0,252.2 L400.3,251.5 L400.6,250.8 L400.9,250.1 L401.2,249.5 L401.4,248.9 L401.7,248.3 L401.9,247.7 L402.2,247.1 L402.4,246.5 L402.7,245.8 L403.0,245.1 L403.2,244.5 L403.5,243.8 L403.8,243.1 L404.1,242.4 L404.3,241.7 L404.6,241.0 L404.8,240.3 L405.1,239.6 L405.4,238.9 L405.6,238.2 L405.9,237.5 L406.1,236.8 L406.4,236.1 L406.6,235.4 L406.9,234.7 L407.1,233.9 L407.4,233.2 L407.6,232.5 L407.9,231.8 L408.1,231.0 L408.4,230.3 L408.6,229.6 L408.9,228.9 L409.1,228.1 L409.4,227.4 L409.6,226.6 L409.9,225.9 L410.1,225.2 L410.4,224.4 L410.6,223.7 L410.9,222.9 L411.1,222.2 L411.3,221.4 L411.6,220.7 L411.8,219.9 L412.1,219.2 L412.3,218.4 L412.6,217.6 L412.8,216.9 L413.0,216.1 L413.3,215.3 L413.5,214.6 L413.7,213.8 L414.0,213.0 L414.2,212.2 L414.5,211.4 L414.7,210.7 L414.9,209.9 L415.2,209.1 L415.4,208.3 L415.6,207.5 L415.8,206.7 L416.1,205.9 L416.3,205.0 L416.5,204.2 L416.8,203.4 L417.0,202.6 L417.2,201.8 L417.4,200.9 L417.7,200.1 L417.9,199.3 L418.1,198.4 L418.3,197.6 L418.5,196.8 L418.8,195.9 L419.0,195.1 L419.2,194.2 L419.4,193.4 L419.6,192.5 L419.9,191.6 L420.1,190.8 L420.3,189.9 L420.5,189.0 L420.7,188.2 L420.9,187.3 L421.1,186.4 L421.4,185.5 L421.6,184.7 L421.8,183.8 L422.0,182.9 L422.2,182.0 L422.4,181.1 L422.6,180.2 L422.8,179.3 L423.0,178.4 L423.2,177.5 L423.4,176.5 L423.6,175.6 L423.8,174.7 L424.1,173.8 L424.3,172.9 L424.5,171.9 L424.7,171.0 L424.9,170.1 L425.1,169.1 L425.3,168.2 L425.5,167.2 L425.7,166.3 L425.9,165.4 L426.1,164.4 L426.3,163.4 L426.5,162.5 L426.6,161.5 L426.8,160.6 L427.0,159.6 L427.2,158.6 L427.4,157.6 L427.6,156.7 L427.8,155.7 L428.0,154.7 L428.2,153.7 L428.4,152.7 L428.6,151.7 L428.8,150.7 L429.0,149.7 L429.1,148.7 L429.3,147.7 L429.5,146.7 L429.7,145.7 L429.9,144.7 L430.1,143.7 L430.3,142.7 L430.5,141.7 L430.6,140.6 L430.8,139.6 L431.0,138.6 L431.2,137.5 L431.4,136.5 L431.6,135.5 L431.7,134.4 L431.9,133.4 L432.1,132.3 L432.3,131.3 L432.5,130.2 L432.6,129.2 L432.8,128.1 L433.0,127.1 L433.2,126.0 L433.4,124.9 L433.5,123.8 L433.7,122.8 L433.9,121.7 L434.1,120.6 L434.2,119.5 L434.4,118.5 L434.6,117.4 L434.8,116.3 L434.9,115.2 L435.1,114.1 L435.3,113.0 L435.4,111.9 L435.6,110.8 L435.8,109.7 L436.0,108.6 L436.1,107.4 L436.3,106.3 L436.5,105.2 L436.7,104.0 L436.8,102.9 L437.0,101.7 L437.2,100.6 L437.3,99.5 L437.5,98.3 L437.7,97.2 L437.8,96.1 L438.0,95.0 L438.1,93.9 L438.3,92.8 L438.5,91.7 L438.6,90.6 L438.8,89.6 L438.9,88.5 L439.1,87.5 L439.2,86.5 L439.3,85.5 L439.5,84.5 L439.6,83.6" stroke="#f00" stroke-width="1.3" fill="none" stroke-linejoin="round"/>
<path d="M59.4,249.1 L61.0,249.1 L62.6,249.0 L64.2,249.0 L65.7,248.9 L67.2,248.9 L68.7,248.8 L70.2,248.8 L71.6,248.7 L73.0,248.7 L74.4,248.6 L75.8,248.6 L77.2,248.5 L78.6,248.4 L79.9,248.4 L81.3,248.3 L82.6,248.2 L83.9,248.1 L85.3,248.1 L86.6,248.0 L87.9,247.9 L89.3,247.8 L90.6,247.7 L92.0,247.6 L93.4,247.6 L94.7,247.5 L96.1,247.4 L97.5,247.3 L99.0,247.2 L100.4,247.1 L101.9,247.0 L103.4,246.9 L104.9,246.8 L106.4,246.7 L107.8,246.5 L109.3,246.4 L110.8,246.3 L112.2,246.2 L113.6,246.1 L115.0,246.0 L116.3,245.9 L117.6,245.8 L118.9,245.7 L120.0,245.6 L121.1,245.5 L122.2,245.4 L123.2,245.3 L124.2,245.2 L125.1,245.1 L126.1,245.0 L127.0,244.8 L128.0,244.7 L128.9,244.5 L129.9,244.3 L130.9,244.1 L132.0,243.8 L133.0,243.6 L134.1,243.3 L135.1,243.0 L136.2,242.7 L137.2,242.5 L138.2,242.2 L139.1,241.9 L139.9,241.7 L140.7,241.5 L141.4,241.3 L142.1,241.1 L142.7,241.0 L143.3,240.8 L144.0,240.7 L144.7,240.5 L145.4,240.3 L146.2,240.1 L147.0,239.9 L147.8,239.6 L148.7,239.3 L149.7,239.0 L150.6,238.7 L151.6,238.4 L152.5,238.0 L153.4,237.7 L154.4,237.3 L155.3,236.9 L156.1,236.5 L157.0,236.1 L157.9,235.7 L158.7,235.2 L159.5,234.8 L160.4,234.3 L161.2,233.8 L162.0,233.4 L162.9,232.9 L163.7,232.4 L164.5,231.8 L165.3,231.3 L166.1,230.8 L167.0,230.2 L167.8,229.6 L168.6,229.1 L169.5,228.5 L170.3,227.9 L171.1,227.2 L172.0,226.6 L172.8,226.0 L173.6,225.3 L174.4,224.7 L175.3,224.0 L176.1,223.4 L176.9,222.8 L177.6,222.2 L178.4,221.6 L179.1,221.0 L179.8,220.5 L180.5,220.0 L181.2,219.5 L181.9,219.0 L182.5,218.5 L183.2,218.1 L183.8,217.6 L184.4,217.1 L185.0,216.7 L185.6,216.2 L186.2,215.8 L186.8,215.4 L187.4,214.9 L187.9,214.5 L188.4,214.2 L189.0,213.8 L189.5,213.5 L190.0,213.2 L190.5,212.9 L191.0,212.7 L191.6,212.5 L192.1,212.3 L192.5,212.2 L193.0,212.1 L193.6,212.0 L194.1,212.0 L194.6,212.0 L195.1,212.2 L195.6,212.3 L196.1,212.5 L196.6,212.8 L197.1,213.1 L197.5,213.4 L198.0,213.8 L198.4,214.2 L198.8,214.7 L199.2,215.1 L199.6,215.7 L200.0,216.2 L200.3,216.9 L200.7,217.5 L201.1,218.1 L201.4,218.8 L201.7,219.5 L202.0,220.2 L202.3,221.0 L202.6,221.7 L202.8,222.5 L203.1,223.2 L203.4,224.0 L203.6,224.8 L203.8,225.6 L204.1,226.4 L204.3,227.2 L204.5,228.0 L204.8,228.8 L205.0,229.6 L205.2,230.4 L205.5,231.3 L205.7,232.1 L206.0,233.0 L206.2,233.9 L206.5,234.7 L206.7,235.6 L207.0,236.5 L207.2,237.3 L207.5,238.2 L207.7,239.0 L207.9,239.8 L208.2,240.6 L208.4,241.3 L208.5,242.0 L208.7,242.6 L208.8,243.2 L209.0,243.8 L209.1,244.4 L209.3,244.9 L209.4,245.5 L209.6,246.1 L209.7,246.7 L209.9,247.3 L210.1,248.0 L210.3,248.7 L210.5,249.5 L210.7,250.3 L211.0,251.2 L211.2,252.2 L211.5,253.2 L211.8,254.2 L212.1,255.3 L212.3,256.4 L212.6,257.5 L212.9,258.6 L213.1,259.7 L213.4,260.8 L213.6,261.9 L213.9,262.9 L214.1,264.0 L214.3,265.0 L214.5,266.0 L214.7,267.0 L215.0,268.0 L215.2,269.0 L215.4,270.0 L215.6,271.1 L215.9,272.1 L216.1,273.1 L216.4,274.1 L216.6,275.1 L216.9,276.1 L217.2,277.2 L217.4,278.2 L217.7,279.2 L218.0,280.3 L218.3,281.3 L218.6,282.3 L218.9,283.3 L219.2,284.4 L219.5,285.4 L219.8,286.4 L220.1,287.4 L220.4,288.4 L220.7,289.4 L221.0,290.3 L221.3,291.3 L221.6,292.2 L221.9,293.0 L222.2,293.9 L222.4,294.7 L222.7,295.5 L223.0,296.3 L223.3,297.1 L223.6,297.9 L223.8,298.7 L224.1,299.4 L224.3,300.2 L224.5,301.0 L224.8,301.7 L225.0,302.5 L225.2,303.3 L225.5,304.1 L225.8,304.9 L226.1,305.7 L226.4,306.5 L226.8,307.3 L227.2,308.1 L227.6,308.9 L228.1,309.7 L228.5,310.5 L229.0,311.3 L229.5,312.0 L230.0,312.7 L230.5,313.4 L231.0,314.1 L231.5,314.7 L232.1,315.3 L232.6,315.9 L233.1,316.4 L233.7,316.9 L234.3,317.4 L234.9,317.9 L235.5,318.4 L236.2,318.8 L236.9,319.2 L237.6,319.7 L238.3,320.0 L239.1,320.4 L239.8,320.7 L240.6,321.1 L241.3,321.4 L242.1,321.7 L242.8,321.9 L243.6,322.2 L244.3,322.4 L245.0,322.6 L245.7,322.8 L246.4,323.0 L247.1,323.1 L247.7,323.3 L248.4,323.4 L249.1,323.5 L249.9,323.6 L250.8,323.7 L251.7,323.8 L252.7,324.0 L253.9,324.1 L255.1,324.2 L256.4,324.4 L257.7,324.5 L259.1,324.7 L260.4,324.8 L261.8,325.0 L263.1,325.1 L264.4,325.2 L265.6,325.3 L266.8,325.4 L267.8,325.5 L268.7,325.6 L269.5,325.7 L270.3,325.7 L270.9,325.8 L271.6,325.8 L272.2,325.9 L272.8,325.9 L273.4,325.9 L274.1,326.0 L274.8,326.0 L275.5,326.1 L276.2,326.1 L276.9,326.1 L277.7,326.2 L278.4,326.2 L279.1,326.2 L279.8,326.3 L280.5,326.3 L281.2,326.3 L281.9,326.3 L282.6,326.4 L283.3,326.4 L284.0,326.4 L284.7,326.4 L285.4,326.4 L286.1,326.4 L286.8,326.4 L287.5,326.4 L288.2,326.4 L288.9,326.4 L289.6,326.4 L290.3,326.4 L291.0,326.4 L291.7,326.4 L292.4,326.4 L293.1,326.4 L293.8,326.4 L294.5,326.4 L295.2,326.4 L295.9,326.4 L296.6,326.3 L297.3,326.3 L298.0,326.3 L298.7,326.3 L299.4,326.3 L300.1,326.2 L300.8,326.2 L301.5,326.2 L302.2,326.2 L302.9,326.1 L303.6,326.1 L304.3,326.1 L305.0,326.0 L305.7,326.0 L306.5,326.0 L307.2,325.9 L307.9,325.9 L308.6,325.9 L309.3,325.8 L310.0,325.8 L310.7,325.8 L311.4,325.7 L312.1,325.7 L312.8,325.7 L313.5,325.6 L314.2,325.6 L314.9,325.6 L315.6,325.5 L316.3,325.5 L317.0,325.4 L317.7,325.4 L318.4,325.4 L319.1,325.3 L319.8,325.3 L320.5,325.2 L321.2,325.2 L321.9,325.1 L322.6,325.0 L323.3,325.0 L324.0,324.9 L324.7,324.8 L325.4,324.8 L326.1,324.7 L326.8,324.6 L327.5,324.5 L328.2,324.4 L328.9,324.4 L329.6,324.3 L330.3,324.2 L331.0,324.1 L331.7,323.9 L332.4,323.8 L333.1,323.7 L333.8,323.6 L334.5,323.5 L335.2,323.3 L335.8,323.2 L336.5,323.0 L337.2,322.9 L337.9,322.7 L338.6,322.6 L339.3,322.4 L340.0,322.2 L340.7,322.1 L341.4,321.9 L342.1,321.7 L342.8,321.5 L343.5,321.3 L344.1,321.1 L344.8,320.9 L345.5,320.7 L346.2,320.5 L346.9,320.3 L347.6,320.0 L348.3,319.8 L348.9,319.6 L349.6,319.3 L350.3,319.1 L351.0,318.8 L351.7,318.6 L352.3,318.3 L353.0,318.1 L353.7,317.8 L354.4,317.5 L355.0,317.2 L355.7,316.9 L356.4,316.6 L357.0,316.3 L357.7,316.0 L358.4,315.6 L359.0,315.3 L359.7,315.0 L360.4,314.6 L361.0,314.2 L361.7,313.9 L362.3,313.5 L363.0,313.1 L363.6,312.7 L364.3,312.3 L364.9,311.9 L365.6,311.5 L366.2,311.1 L366.8,310.6 L367.5,310.2 L368.1,309.7 L368.7,309.2 L369.4,308.8 L370.0,308.3 L370.6,307.8 L371.2,307.3 L371.8,306.8 L372.5,306.3 L373.1,305.7 L373.7,305.2 L374.3,304.6 L374.9,304.1 L375.5,303.5 L376.1,303.0 L376.7,302.4 L377.3,301.8 L377.8,301.2 L378.4,300.6 L379.0,300.0 L379.6,299.4 L380.2,298.7 L380.7,298.1 L381.3,297.5 L381.9,296.8 L382.4,296.1 L383.0,295.5 L383.6,294.8 L384.1,294.1 L384.7,293.4 L385.2,292.7 L385.8,292.0 L386.3,291.2 L386.9,290.5 L387.4,289.8 L387.9,289.0 L388.5,288.3 L389.0,287.6 L389.5,286.8 L390.0,286.0 L390.5,285.3 L391.1,284.5 L391.6,283.7 L392.1,282.8 L392.6,282.0 L393.1,281.1 L393.7,280.2 L394.2,279.2 L394.7,278.3 L395.2,277.3 L395.8,276.4 L396.2,275.5 L396.7,274.6 L397.2,273.7 L397.6,272.9 L398.0,272.1 L398.3,271.4 L398.6,270.7 L398.9,270.1 L399.2,269.5 L399.5,268.9 L399.7,268.3 L400.0,267.7 L400.3,267.1 L400.5,266.5 L400.8,265.9 L401.1,265.2 L401.4,264.5 L401.7,263.9 L402.0,263.2 L402.2,262.6 L402.5,261.9 L402.8,261.2 L403.1,260.6 L403.3,259.9 L403.6,259.2 L403.9,258.6 L404.2,257.9 L404.4,257.2 L404.7,256.6 L405.0,255.9 L405.2,255.2 L405.5,254.5 L405.8,253.9 L406.0,253.2 L406.3,252.5 L406.6,251.8 L406.8,251.1 L407.1,250.4 L407.4,249.7 L407.6,249.0 L407.9,248.3 L408.1,247.5 L408.4,246.8 L408.7,246.1 L408.9,245.4 L409.2,244.7 L409.4,243.9 L409.7,243.2 L409.9,242.5 L410.2,241.7 L410.4,241.0 L410.7,240.2 L410.9,239.5 L411.2,238.7 L411.4,238.0 L411.7,237.2 L411.9,236.5 L412.2,235.7 L412.4,235.0 L412.7,234.2 L412.9,233.4 L413.2,232.6 L413.4,231.9 L413.6,231.1 L413.9,230.3 L414.1,229.5 L414.4,228.7 L414.6,227.9 L414.8,227.1 L415.1,226.3 L415.3,225.5 L415.5,224.7 L415.8,223.9 L416.0,223.1 L416.2,222.3 L416.5,221.5 L416.7,220.7 L417.0,219.9 L417.2,219.1 L417.4,218.3 L417.6,217.5 L417.9,216.6 L418.1,215.8 L418.3,215.0 L418.6,214.2 L418.8,213.3 L419.0,212.5 L419.3,211.7 L419.5,210.8 L419.7,210.0 L419.9,209.1 L420.2,208.3 L420.4,207.4 L420.6,206.6 L420.8,205.7 L421.0,204.9 L421.3,204.0 L421.5,203.1 L421.7,202.2 L421.9,201.4 L422.1,200.5 L422.4,199.6 L422.6,198.7 L422.8,197.8 L423.0,196.9 L423.2,196.0 L423.4,195.1 L423.6,194.2 L423.8,193.3 L424.1,192.4 L424.3,191.4 L424.5,190.5 L424.7,189.6 L424.9,188.6 L425.1,187.7 L425.3,186.7 L425.5,185.8 L425.7,184.8 L425.9,183.9 L426.1,182.9 L426.3,181.9 L426.5,180.9 L426.7,180.0 L426.9,179.0 L427.1,178.0 L427.3,177.0 L427.5,176.0 L427.7,175.0 L427.9,174.0 L428.0,173.0 L428.2,172.0 L428.4,171.0 L428.6,170.0 L428.8,169.0 L429.0,168.0 L429.2,166.9 L429.4,165.9 L429.6,164.9 L429.8,163.9 L429.9,162.8 L430.1,161.8 L430.3,160.8 L430.5,159.7 L430.7,158.7 L430.9,157.6 L431.1,156.6 L431.2,155.5 L431.4,154.4 L431.6,153.4 L431.8,152.3 L432.0,151.2 L432.2,150.2 L432.3,149.1 L432.5,148.0 L432.7,146.9 L432.9,145.8 L433.0,144.7 L433.2,143.6 L433.4,142.5 L433.6,141.4 L433.8,140.3 L433.9,139.2 L434.1,138.1 L434.3,137.0 L434.5,135.9 L434.6,134.8 L434.8,133.7 L435.0,132.5 L435.1,131.4 L435.3,130.3 L435.5,129.1 L435.7,128.0 L435.8,126.8 L436.0,125.7 L436.2,124.5 L436.3,123.4 L436.5,122.2 L436.7,121.0 L436.9,119.8 L437.0,118.7 L437.2,117.5 L437.4,116.3 L437.5,115.1 L437.7,114.0 L437.8,112.8 L438.0,111.7 L438.2,110.5 L438.3,109.4 L438.5,108.3 L438.6,107.1 L438.8,106.0 L438.9,105.0 L439.1,103.9 L439.2,102.8 L439.3,101.8 L439.5,100.8 L439.6,99.8" stroke="#f00" stroke-width="1.3" fill="none" stroke-linejoin="round"/>
<path d="M140.35,225.8V251.2" stroke="#f00" stroke-width="1.3" fill="none"/>
<text x="70.0" y="16.5" font-family="'Liberation Serif',serif" font-size="20" textLength="16.6" lengthAdjust="spacingAndGlyphs" stroke="#000" stroke-width="0.35" >m</text>
<text x="87.6" y="20.5" font-family="'Liberation Sans',sans-serif" font-size="12.5" stroke="#000" stroke-width="0.55" >0</text>
<path d="M96.3,20.1L106.8,2.0" stroke="#000" stroke-width="1.35" fill="none"/>
<text x="108.1" y="16.5" font-family="'Liberation Serif',serif" font-size="20" textLength="16.6" lengthAdjust="spacingAndGlyphs" stroke="#000" stroke-width="0.35" >m</text>
<text x="126.0" y="20.3" font-family="'Liberation Serif',serif" font-size="14" font-weight="bold" textLength="41.2" lengthAdjust="spacingAndGlyphs" >Planck</text>
<path d="M168.9,9.5H179.7M168.9,12.9H179.7" stroke="#000" stroke-width="1.25" fill="none"/>
<text x="181" y="16.5" font-family="'Liberation Sans',sans-serif" font-size="17.5" textLength="36.3" lengthAdjust="spacingAndGlyphs" stroke="#000" stroke-width="0.15" >0.05</text>
<text x="218.9" y="16.5" font-family="'Liberation Serif',serif" font-size="19" stroke="#000" stroke-width="0.35" >,</text>
<text x="232.7" y="16.5" font-family="'Liberation Serif',serif" font-size="20" textLength="16.6" lengthAdjust="spacingAndGlyphs" stroke="#000" stroke-width="0.35" >m</text>
<text x="250.7" y="20.7" font-family="'Liberation Sans',sans-serif" font-size="12.2" font-weight="bold" font-style="italic" textLength="7.8" lengthAdjust="spacingAndGlyphs" stroke="#000" stroke-width="0.3" >ϕ</text>
<path d="M260.3,9.5H270.9M260.3,12.9H270.9" stroke="#000" stroke-width="1.25" fill="none"/>
<text x="272" y="16.5" font-family="'Liberation Sans',sans-serif" font-size="17.5" textLength="32.8" lengthAdjust="spacingAndGlyphs" stroke="#000" stroke-width="0.15" >500</text>
<text x="314.6" y="16.5" font-family="'Liberation Serif',serif" font-size="19" textLength="32.3" lengthAdjust="spacingAndGlyphs" stroke="#000" stroke-width="0.35" >GeV</text>
<text x="347.1" y="16.5" font-family="'Liberation Serif',serif" font-size="19" stroke="#000" stroke-width="0.35" >,</text>
<text x="360.1" y="16.5" font-family="'Liberation Serif',serif" font-size="19" textLength="11.6" lengthAdjust="spacingAndGlyphs" stroke="#000" stroke-width="0.35" >Λ</text>
<text x="371.9" y="20.7" font-family="'Liberation Sans',sans-serif" font-size="12.2" font-weight="bold" font-style="italic" textLength="7.8" lengthAdjust="spacingAndGlyphs" stroke="#000" stroke-width="0.3" >ϕ</text>
<path d="M381.7,9.5H392.5M381.7,12.9H392.5" stroke="#000" stroke-width="1.25" fill="none"/>
<text x="395.6" y="16.5" font-family="'Liberation Sans',sans-serif" font-size="17.5" textLength="19.2" lengthAdjust="spacingAndGlyphs" stroke="#000" stroke-width="0.15" >10</text>
<text x="424.2" y="16.5" font-family="'Liberation Serif',serif" font-size="19" textLength="31" lengthAdjust="spacingAndGlyphs" stroke="#000" stroke-width="0.35" >TeV</text>
<text x="32.9" y="66.6" font-family="'Liberation Sans',sans-serif" font-size="15.4" textLength="22.0" lengthAdjust="spacingAndGlyphs" stroke="#000" stroke-width="0.25" >1.5</text>
<text x="32.9" y="129.7" font-family="'Liberation Sans',sans-serif" font-size="15.4" textLength="22.0" lengthAdjust="spacingAndGlyphs" stroke="#000" stroke-width="0.25" >1.0</text>
<text x="32.9" y="192.8" font-family="'Liberation Sans',sans-serif" font-size="15.4" textLength="22.0" lengthAdjust="spacingAndGlyphs" stroke="#000" stroke-width="0.25" >0.5</text>
<text x="32.9" y="255.9" font-family="'Liberation Sans',sans-serif" font-size="15.4" textLength="22.0" lengthAdjust="spacingAndGlyphs" stroke="#000" stroke-width="0.25" >0.0</text>
<text x="21.6" y="319.0" font-family="'Liberation Sans',sans-serif" font-size="15.4" textLength="33.3" lengthAdjust="spacingAndGlyphs" stroke="#000" stroke-width="0.25" >−0.5</text>
<g transform="translate(12.9,207) rotate(-90)">
<text x="0" y="0" font-family="'Liberation Serif',serif" font-size="16" textLength="16.8" lengthAdjust="spacingAndGlyphs" stroke="#000" stroke-width="0.55" >Re</text>
<text x="25.5" y="0" font-family="'Liberation Sans',sans-serif" font-size="15" stroke="#000" stroke-width="0.2" >a</text>
<text x="34.8" y="3.2" font-family="'Liberation Sans',sans-serif" font-size="10.5" font-weight="bold" >0</text>
</g>
<text x="185.3" y="357.0" font-family="'Liberation Sans',sans-serif" font-size="15.5" textLength="16.6" lengthAdjust="spacingAndGlyphs" stroke="#000" stroke-width="0.2" >10</text>
<text x="202.1" y="351.5" font-family="'Liberation Sans',sans-serif" font-size="14.7" textLength="8.6" lengthAdjust="spacingAndGlyphs" stroke="#000" stroke-width="0.2" >3</text>
<text x="387.8" y="357.0" font-family="'Liberation Sans',sans-serif" font-size="15.5" textLength="16.6" lengthAdjust="spacingAndGlyphs" stroke="#000" stroke-width="0.2" >10</text>
<text x="404.6" y="351.5" font-family="'Liberation Sans',sans-serif" font-size="14.7" textLength="8.6" lengthAdjust="spacingAndGlyphs" stroke="#000" stroke-width="0.2" >4</text>
<path d="M229.8,369.8L231.7,368.7L234.2,375.6L237.8,362.7H249" stroke="#000" stroke-width="1.15" fill="none" stroke-linejoin="round"/>
<text x="238.8" y="375.5" font-family="'Liberation Serif',serif" font-size="16.5" font-weight="bold" textLength="7.6" lengthAdjust="spacingAndGlyphs" >s</text>
<text x="256.5" y="375.5" font-family="'Liberation Serif',serif" font-size="15.5" font-weight="bold" textLength="38.4" lengthAdjust="spacingAndGlyphs" >(GeV)</text>
<text x="115.9" y="129.1" font-family="'Liberation Serif',serif" font-size="15" font-weight="bold" textLength="14.4" lengthAdjust="spacingAndGlyphs" >m</text>
<text x="130.3" y="131.7" font-family="'Liberation Serif',serif" font-size="11" font-weight="bold" textLength="5.4" lengthAdjust="spacingAndGlyphs" >h</text>
<path d="M136.8,123.6H144.8M136.8,127H144.8" stroke="#000" stroke-width="1.25" fill="none"/>
<text x="145.9" y="129.1" font-family="'Liberation Sans',sans-serif" font-size="13" textLength="112.2" lengthAdjust="spacingAndGlyphs" stroke="#000" stroke-width="0.55" >715,815,915,1015</text>
<text x="265.6" y="129.1" font-family="'Liberation Serif',serif" font-size="14.5" font-weight="bold" textLength="34.8" lengthAdjust="spacingAndGlyphs" >(GeV)</text>
<text x="74.1" y="308.6" font-family="'Liberation Serif',serif" font-size="14" font-weight="bold" textLength="59.3" lengthAdjust="spacingAndGlyphs" fill="#f0f" >Unitarity</text>
<text x="141.6" y="308.6" font-family="'Liberation Serif',serif" font-size="14" font-weight="bold" textLength="47.8" lengthAdjust="spacingAndGlyphs" fill="#f0f" >Bounds</text>
</svg>
</body></html>
